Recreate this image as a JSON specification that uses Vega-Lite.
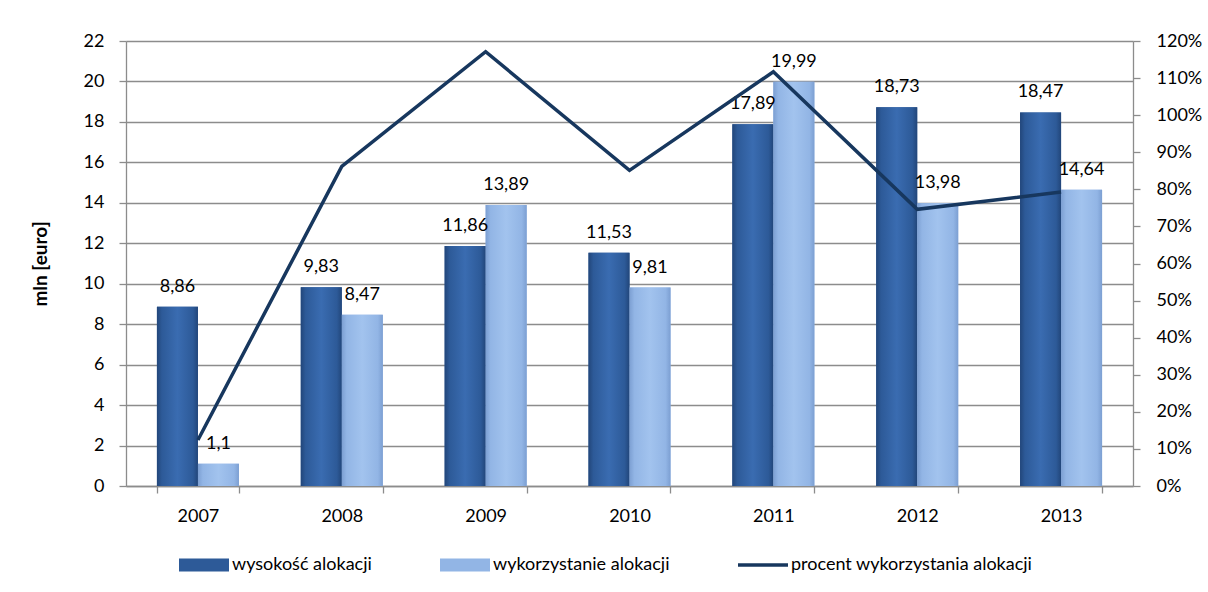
{
  "$schema": "https://vega.github.io/schema/vega-lite/v6.json",
  "autosize": {"type": "none"},
  "padding": {"left": 126, "top": 41, "right": 75, "bottom": 106},
  "width": 1007,
  "height": 445,
  "background": "white",
  "config": {
    "view": {"stroke": null},
    "font": "Lato",
    "axis": {
      "labelFont": "Lato", "labelFontSize": 18, "labelColor": "#000000",
      "domainColor": "#8C8C8C", "tickColor": "#8C8C8C", "gridColor": "#8C8C8C",
      "domainWidth": 1.3, "tickWidth": 1.3, "gridWidth": 1.3, "tickSize": 7
    },
    "legend": {"labelFont": "Lato", "labelFontSize": 18, "labelColor": "#000000", "labelLimit": 0}
  },
  "datasets": {
    "bars": [
      {"year": "2007", "series": "wysokość alokacji", "value": 8.86, "label": "8,86"},
      {"year": "2007", "series": "wykorzystanie alokacji", "value": 1.1, "label": "1,1"},
      {"year": "2008", "series": "wysokość alokacji", "value": 9.83, "label": "9,83"},
      {"year": "2008", "series": "wykorzystanie alokacji", "value": 8.47, "label": "8,47"},
      {"year": "2009", "series": "wysokość alokacji", "value": 11.86, "label": "11,86"},
      {"year": "2009", "series": "wykorzystanie alokacji", "value": 13.89, "label": "13,89"},
      {"year": "2010", "series": "wysokość alokacji", "value": 11.53, "label": "11,53"},
      {"year": "2010", "series": "wykorzystanie alokacji", "value": 9.81, "label": "9,81"},
      {"year": "2011", "series": "wysokość alokacji", "value": 17.89, "label": "17,89"},
      {"year": "2011", "series": "wykorzystanie alokacji", "value": 19.99, "label": "19,99"},
      {"year": "2012", "series": "wysokość alokacji", "value": 18.73, "label": "18,73"},
      {"year": "2012", "series": "wykorzystanie alokacji", "value": 13.98, "label": "13,98"},
      {"year": "2013", "series": "wysokość alokacji", "value": 18.47, "label": "18,47"},
      {"year": "2013", "series": "wykorzystanie alokacji", "value": 14.64, "label": "14,64"}
    ],
    "line": [
      {"year": "2007", "series": "procent wykorzystania alokacji", "pct": 0.124},
      {"year": "2008", "series": "procent wykorzystania alokacji", "pct": 0.862},
      {"year": "2009", "series": "procent wykorzystania alokacji", "pct": 1.171},
      {"year": "2010", "series": "procent wykorzystania alokacji", "pct": 0.851},
      {"year": "2011", "series": "procent wykorzystania alokacji", "pct": 1.117},
      {"year": "2012", "series": "procent wykorzystania alokacji", "pct": 0.746},
      {"year": "2013", "series": "procent wykorzystania alokacji", "pct": 0.793}
    ]
  },
  "encoding": {
    "x": {
      "field": "year", "type": "nominal",
      "scale": {"paddingInner": 0.43, "paddingOuter": 0.215},
      "axis": {"title": null, "labelAngle": 0, "tickBand": "extent", "labelPadding": 14, "grid": false}
    }
  },
  "layer": [
    {
      "data": {"name": "bars"},
      "encoding": {
        "y": {
          "field": "value", "type": "quantitative",
          "scale": {"domain": [0, 22], "nice": false},
          "axis": {
            "title": "mln [euro]", "titleFont": "Lato", "titleFontSize": 19, "titleFontWeight": "bold",
            "titleColor": "#000000", "titlePadding": 33,
            "values": [0, 2, 4, 6, 8, 10, 12, 14, 16, 18, 20, 22],
            "labelPadding": 15, "grid": true
          }
        },
        "xOffset": {
          "field": "series", "type": "nominal",
          "scale": {"domain": ["wysokość alokacji", "wykorzystanie alokacji"], "paddingInner": 0, "paddingOuter": 0}
        }
      },
      "layer": [
        {
          "mark": {"type": "bar"},
          "encoding": {
            "color": {
              "field": "series", "type": "nominal",
              "scale": {
                "domain": ["wysokość alokacji", "wykorzystanie alokacji", "procent wykorzystania alokacji"],
                "range": ["#2D5A98", "#92B5E5", "#17375E"]
              },
              "legend": {
                "title": null, "orient": "none", "direction": "horizontal",
                "legendX": 53, "legendY": 499,
                "symbolSize": 2500, "labelOffset": 3, "columnPadding": 68, "labelLimit": 0,
                "encode": {
                  "symbols": {
                    "update": {
                      "stroke": {"value": "transparent"},
                      "strokeWidth": {"value": 0},
                      "shape": {"signal": "datum.value === 'procent wykorzystania alokacji' ? 'M-1,-0.07H1V0.07H-1Z' : 'M-1,-0.26H1V0.26H-1Z'"}
                    }
                  }
                }
              }
            }
          }
        },
        {
          "transform": [{"filter": "datum.series === 'wysokość alokacji'"}],
          "mark": {"type": "bar", "color": {"gradient": "linear", "x1": 0, "y1": 0, "x2": 1, "y2": 0, "stops": [
            {"offset": 0, "color": "#22467A"}, {"offset": 0.12, "color": "#2D5A98"},
            {"offset": 0.5, "color": "#3A6CB1"}, {"offset": 0.88, "color": "#2D5A98"},
            {"offset": 1, "color": "#22467A"}]}}
        },
        {
          "transform": [{"filter": "datum.series === 'wykorzystanie alokacji'"}],
          "mark": {"type": "bar", "color": {"gradient": "linear", "x1": 0, "y1": 0, "x2": 1, "y2": 0, "stops": [
            {"offset": 0, "color": "#7C9FD2"}, {"offset": 0.12, "color": "#92B5E5"},
            {"offset": 0.5, "color": "#A2C3EE"}, {"offset": 0.88, "color": "#92B5E5"},
            {"offset": 1, "color": "#7C9FD2"}]}}
        },
        {
          "mark": {"type": "text", "baseline": "alphabetic", "dy": -15, "fontSize": 18, "font": "Lato", "color": "#000000"},
          "encoding": {"text": {"field": "label"}}
        }
      ]
    },
    {
      "data": {"name": "line"},
      "mark": {"type": "line", "strokeWidth": 3.5, "color": "#17375E"},
      "encoding": {
        "y": {
          "field": "pct", "type": "quantitative",
          "scale": {"domain": [0, 1.2], "nice": false},
          "axis": {
            "orient": "right", "title": null, "format": ".0%",
            "values": [0, 0.1, 0.2, 0.3, 0.4, 0.5, 0.6, 0.7, 0.8, 0.9, 1.0, 1.1, 1.2],
            "labelPadding": 16, "grid": false
          }
        },
        "color": {"field": "series", "type": "nominal"}
      }
    }
  ],
  "resolve": {"scale": {"y": "independent"}}
}
